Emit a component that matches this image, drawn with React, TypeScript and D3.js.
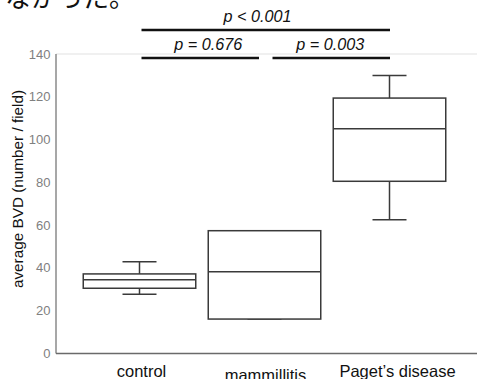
import React from "react";
import * as d3 from "d3";

const categories = ["control", "mammillitis", "Paget\u2019s disease"];
const whiskerMin = [27.7, 16.1, 62.5];
const q1 = [30.5, 16.1, 80.5];
const median = [34.5, 38.2, 105.1];
const q3 = [37.2, 57.4, 119.4];
const whiskerMax = [42.9, 57.4, 129.9];
const yTicks = [0, 20, 40, 60, 80, 100, 120, 140];
const yTitle = "average BVD (number / field)";
const headerText = "なかった。";
const comparisons = [
  { a: 0, b: 2, label: "p < 0.001", level: 1 },
  { a: 0, b: 1, label: "p = 0.676", level: 0 },
  { a: 1, b: 2, label: "p = 0.003", level: 0 },
];
const labelDx = [2, 1, 8];
const labelDy = [0, 4, 0];

export default function App() {
  const W = 477;
  const H = 379;
  const axisX = 56;
  const y = d3.scaleLinear().domain([0, 140]).range([353.5, 54]);
  const x = d3.scaleBand<string>().domain(categories).range([77, 452]).padding(0);
  const bw = x.bandwidth() * 0.9;
  const capW = 34;
  const boxStroke = "#3a3a3a";
  const font = "'Liberation Sans', Arial, sans-serif";
  const cx = (i: number) => (x(categories[i]) as number) + x.bandwidth() / 2;

  return (
    <svg width={W} height={H} style={{ position: "absolute", left: 0, top: 0, background: "#fff" }}>
      <text x={5} y={7} fontFamily="'Noto Sans CJK JP', sans-serif" fontSize={26} fill="#111">
        {headerText}
      </text>
      <line x1={axisX} x2={W} y1={y(140)} y2={y(140)} stroke="#e2e2e2" strokeWidth={1.2} />
      <line x1={axisX} x2={axisX} y1={y(140)} y2={y(0)} stroke="#8a8a8a" strokeWidth={1.5} />
      <line x1={axisX} x2={W} y1={y(0)} y2={y(0)} stroke="#6a6a6a" strokeWidth={1.5} />
      {yTicks.map((t) => (
        <text key={t} x={50.5} y={y(t) + 4.5} textAnchor="end" fontFamily={font} fontSize={13} fill="#808080">
          {t}
        </text>
      ))}
      <text
        transform={`translate(23,189) rotate(-90)`}
        textAnchor="middle"
        fontFamily={font}
        fontSize={15.3}
        fill="#111"
      >
        {yTitle}
      </text>
      {categories.map((c, i) => {
        const c0 = cx(i);
        return (
          <g key={c} stroke={boxStroke} strokeWidth={1.5} fill="none">
            <line x1={c0} x2={c0} y1={y(whiskerMax[i])} y2={y(q3[i])} />
            <line x1={c0} x2={c0} y1={y(q1[i])} y2={y(whiskerMin[i])} />
            <line x1={c0 - capW / 2} x2={c0 + capW / 2} y1={y(whiskerMax[i])} y2={y(whiskerMax[i])} />
            <line x1={c0 - capW / 2} x2={c0 + capW / 2} y1={y(whiskerMin[i])} y2={y(whiskerMin[i])} />
            <rect x={c0 - bw / 2} y={y(q3[i])} width={bw} height={y(q1[i]) - y(q3[i])} fill="#fff" />
            <line x1={c0 - bw / 2} x2={c0 + bw / 2} y1={y(median[i])} y2={y(median[i])} />
          </g>
        );
      })}
      {categories.map((c, i) => (
        <text
          key={c}
          x={cx(i) + labelDx[i]}
          y={376.5 + labelDy[i]}
          textAnchor="middle"
          fontFamily={font}
          fontSize={16.5}
          fill="#111"
        >
          {c}
        </text>
      ))}
      {comparisons.map((cmp, k) => {
        const ly = cmp.level === 1 ? 30 : 58;
        const gap = cmp.level === 0 ? 6 : 0;
        const x1 = cx(cmp.a) + 2 + (cmp.a === 1 ? gap : 0);
        const x2 = cx(cmp.b) + 0.5 - (cmp.b === 1 ? gap : 0);
        const tx = cmp.level === 1 ? 257.5 : cmp.a === 0 ? 208.3 : 330.3;
        return (
          <g key={k}>
            <line x1={x1} x2={x2} y1={ly} y2={ly} stroke="#111" strokeWidth={2.5} />
            <text
              x={tx}
              y={ly - 8.5}
              textAnchor="middle"
              fontFamily={font}
              fontStyle="italic"
              fontSize={16.2}
              fill="#111"
            >
              {cmp.label}
            </text>
          </g>
        );
      })}
    </svg>
  );
}
